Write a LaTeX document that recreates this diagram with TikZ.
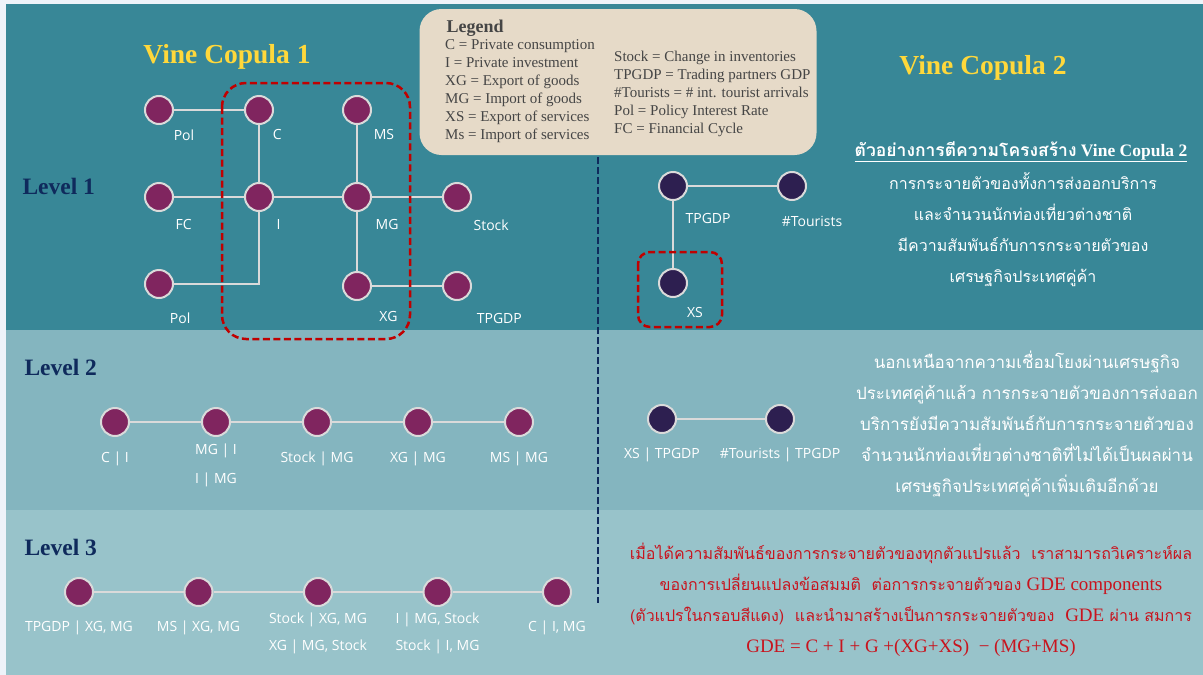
\documentclass[tikz,border=0pt]{standalone}
\usepackage{fontspec}
\setmainfont{Liberation Serif}
\setsansfont{Open Sans}
\newfontfamily\thaifont[Script=Thai]{Loma}
\usetikzlibrary{positioning}

\definecolor{pagebg}{HTML}{EEF3F9}
\definecolor{bandone}{HTML}{388797}
\definecolor{bandtwo}{HTML}{84B5BF}
\definecolor{bandthree}{HTML}{98C3CA}
\definecolor{plum}{HTML}{80255F}
\definecolor{deepind}{HTML}{2D1F50}
\definecolor{ring}{HTML}{DADADA}
\definecolor{vinegold}{HTML}{FFD83B}
\definecolor{levelnavy}{HTML}{0F2A5C}
\definecolor{legendbg}{HTML}{E6DAC8}
\definecolor{legendtxt}{HTML}{454545}
\definecolor{boxred}{HTML}{C00000}
\definecolor{notered}{HTML}{C8141E}

\begin{document}
\begin{tikzpicture}[
    x=1pt, y=-1pt,
    vnode/.style={circle, fill=plum, draw=ring, line width=2pt, minimum size=28pt, inner sep=0pt},
    dnode/.style={vnode, fill=deepind},
    lbl/.style={font=\sffamily\fontsize{14}{17}\selectfont, text=white, align=center},
    link/.style={draw=ring, line width=2.5pt},
    redbox/.style={draw=boxred, line width=2.5pt, dash pattern=on 7pt off 3.5pt, rounded corners=24pt},
    divider/.style={draw=levelnavy, line width=2.5pt, dash pattern=on 7pt off 3pt},
    levtitle/.style={font=\bfseries\fontsize{23.5}{27}\selectfont, text=levelnavy, anchor=west},
    vinetitle/.style={font=\bfseries\fontsize{27.5}{31}\selectfont, text=vinegold},
    legtxt/.style={font=\fontsize{15}{18}\selectfont, text=legendtxt, align=left, inner sep=0pt, anchor=north west},
    thaitxt/.style={font=\thaifont\fontsize{16}{31}\selectfont, text=white, align=center}
]
    % Bands
    \fill[pagebg] (0,0) rectangle (1203,675);
    \fill[bandone] (6,4) rectangle (1203,330);
    \fill[bandtwo] (6,330) rectangle (1203,510);
    \fill[bandthree] (6,510) rectangle (1203,675);

    % Titles
    \node[vinetitle] (vineone) at (227,57) {Vine Copula 1};
    \node[vinetitle] (vinetwo) at (983,68) {Vine Copula 2};
    \node[levtitle] (levone) at (19,186) {Level 1};
    \node[levtitle] (levtwo) at (21,367) {Level 2};
    \node[levtitle] (levthree) at (21,547) {Level 3};

    % Legend
    \node[fill=legendbg, rounded corners=22pt, minimum width=397pt, minimum height=146pt] (legend) at (618,82) {};
    \node[font=\bfseries\fontsize{18}{20}\selectfont, text=legendtxt, anchor=west] (legtitle) at (443,28) {Legend};
    \node[legtxt] (legleft) at (445,39) {C = Private consumption\\ I = Private investment\\ XG = Export of goods\\ MG = Import of goods\\ XS = Export of services\\ Ms = Import of services};
    \node[legtxt] (legright) at (614,51) {Stock = Change in inventories\\ TPGDP = Trading partners GDP\\ \#Tourists = \# int. tourist arrivals\\ Pol = Policy Interest Rate\\ FC = Financial Cycle};

    % Level 1 nodes, Vine Copula 1
    \node[vnode, label={[lbl, label distance=8pt, xshift=-5pt]below right:Pol}] (pola) at (159,110) {};
    \node[vnode, right=70pt of pola, label={[lbl, label distance=8pt, xshift=-6pt]below right:C}] (c) {};
    \node[vnode, right=68pt of c, label={[lbl, label distance=8pt, xshift=-3pt]below right:MS}] (ms) {};
    \node[vnode, below=57pt of pola, label={[lbl, label distance=12pt, xshift=-6pt]below right:FC}] (fc) {};
    \node[vnode, below=57pt of c, label={[lbl, label distance=12pt, xshift=-5pt]below right:I}] (inv) {};
    \node[vnode, below=57pt of ms, label={[lbl, label distance=12pt, xshift=-4pt]below right:MG}] (mg) {};
    \node[vnode, right=70pt of mg, label={[lbl, label distance=12pt, xshift=-6pt]below right:Stock}] (stock) {};
    \node[vnode, below=57pt of fc, label={[lbl, label distance=21pt, xshift=-18pt]below right:Pol}] (polb) {};
    \node[vnode, below=59pt of mg, label={[lbl, label distance=16pt, xshift=-3pt]below right:XG}] (xg) {};
    \node[vnode, right=70pt of xg, label={[lbl, label distance=18pt, xshift=-7pt]below right:TPGDP}] (tpgdp) {};

    \draw[link] (pola) -- (c);
    \draw[link] (c) -- (inv);
    \draw[link] (fc) -- (inv);
    \draw[link] (inv) -- (mg);
    \draw[link] (mg) -- (stock);
    \draw[link] (ms) -- (mg);
    \draw[link] (mg) -- (xg);
    \draw[link] (xg) -- (tpgdp);
    \draw[link] (inv) |- (polb);
    \draw[redbox] (222,83) rectangle (410,339);

    % Level 1 nodes, Vine Copula 2
    \node[dnode, label={[lbl, label distance=19pt, xshift=-15pt]below right:TPGDP}] (tpb) at (673,186) {};
    \node[dnode, right=89pt of tpb, label={[lbl, label distance=12pt, xshift=20pt]below:\#Tourists}] (tour) {};
    \node[dnode, below=67pt of tpb, label={[lbl, label distance=14pt, xshift=-10pt]below right:XS}] (xs) {};
    \draw[link] (tpb) -- (tour);
    \draw[link] (tpb) -- (xs);
    \draw[redbox, rounded corners=12pt] (638,252) rectangle (722,327);

    % Level 2
    \node[vnode, label={[lbl, label distance=11pt]below:C | I}] (cgi) at (115,422) {};
    \node[vnode, right=71pt of cgi, label={[lbl, label distance=3pt]below:{MG | I\\[12pt]I | MG}}] (mgi) {};
    \node[vnode, right=71pt of mgi, label={[lbl, label distance=11pt]below:Stock | MG}] (stmg) {};
    \node[vnode, right=71pt of stmg, label={[lbl, label distance=11pt]below:XG | MG}] (xgmg) {};
    \node[vnode, right=71pt of xgmg, label={[lbl, label distance=11pt]below:MS | MG}] (msmg) {};
    \draw[link] (cgi) -- (mgi);
    \draw[link] (mgi) -- (stmg);
    \draw[link] (stmg) -- (xgmg);
    \draw[link] (xgmg) -- (msmg);

    \node[dnode, label={[lbl, label distance=10pt]below:XS | TPGDP}] (xstp) at (662,419) {};
    \node[dnode, right=88pt of xstp, label={[lbl, label distance=10pt]below:\#Tourists | TPGDP}] (tourtp) {};
    \draw[link] (xstp) -- (tourtp);

    % Level 3
    \node[vnode, label={[lbl, label distance=10pt]below:{TPGDP | XG, MG}}] (tpx) at (79,592) {};
    \node[vnode, right=89.5pt of tpx, label={[lbl, label distance=10pt]below:{MS | XG, MG}}] (msx) {};
    \node[vnode, right=89.5pt of msx, label={[lbl, label distance=2pt]below:{Stock | XG, MG\\[10pt]XG | MG, Stock}}] (stx) {};
    \node[vnode, right=89.5pt of stx, label={[lbl, label distance=2pt]below:{I | MG, Stock\\[10pt]Stock | I, MG}}] (imx) {};
    \node[vnode, right=89.5pt of imx, label={[lbl, label distance=10pt]below:{C | I, MG}}] (cim) {};
    \draw[link] (tpx) -- (msx);
    \draw[link] (msx) -- (stx);
    \draw[link] (stx) -- (imx);
    \draw[link] (imx) -- (cim);

    % Divider
    \coordinate (divtop) at (598,157);
    \coordinate (divbot) at (598,603);
    \draw[divider] (divtop) -- (divbot);

    % Notes
    \node[font=\fontsize{17.5}{20}\selectfont, text=white] (notehead) at (1021,152)
        {\underline{{\thaifont\bfseries ตัวอย่างการตีความโครงสร้าง} \textbf{Vine Copula 2}}};
    \node[thaitxt] (noteone) at (1023,230) {การกระจายตัวของทั้งการส่งออกบริการ\\ และจำนวนนักท่องเที่ยวต่างชาติ\\ มีความสัมพันธ์กับการกระจายตัวของ\\ เศรษฐกิจประเทศคู่ค้า};
    \node[thaitxt, font=\thaifont\fontsize{17}{31}\selectfont] (notetwo) at (1027,424) {นอกเหนือจากความเชื่อมโยงผ่านเศรษฐกิจ\\ ประเทศคู่ค้าแล้ว การกระจายตัวของการส่งออก\\ บริการยังมีความสัมพันธ์กับการกระจายตัวของ\\ จำนวนนักท่องเที่ยวต่างชาติที่ไม่ได้เป็นผลผ่าน\\ เศรษฐกิจประเทศคู่ค้าเพิ่มเติมอีกด้วย};
    \node[thaitxt, text=notered] (notethree) at (911,600) {เมื่อได้ความสัมพันธ์ของการกระจายตัวของทุกตัวแปรแล้ว\ \ เราสามารถวิเคราะห์ผล\\ ของการเปลี่ยนแปลงข้อสมมติ\ \ ต่อการกระจายตัวของ {\rmfamily\fontsize{19}{31}\selectfont GDE components}\\ (ตัวแปรในกรอบสีแดง)\ \ และนำมาสร้างเป็นการกระจายตัวของ\ \ {\rmfamily\fontsize{19}{31}\selectfont GDE} ผ่าน สมการ\\ {\rmfamily\fontsize{19}{31}\selectfont GDE = C + I + G +(XG+XS)\ \ − (MG+MS)}};
\end{tikzpicture}
\end{document}
